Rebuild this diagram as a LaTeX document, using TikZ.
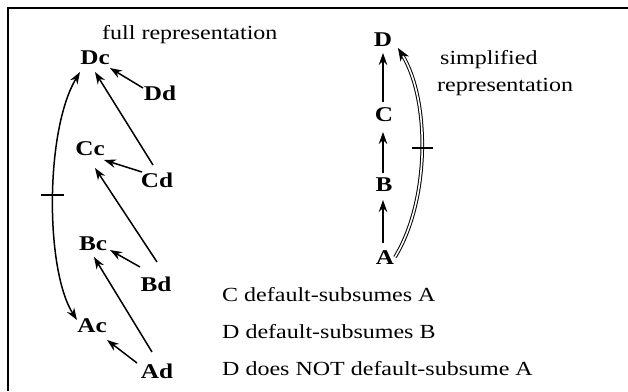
\documentclass[tikz,border=0pt]{standalone}
\usepackage{fontspec}
\setmainfont{Liberation Serif}[FakeStretch=1.2]
\usetikzlibrary{arrows.meta,calc}
\begin{document}
\begin{tikzpicture}[x=1pt,y=-1pt,
  lbl/.style={font=\fontsize{21}{24}\selectfont\bfseries, inner sep=0pt},
  txt/.style={font=\fontsize{20}{24}\selectfont, inner sep=0pt, anchor=base west},
  arr/.style={line width=1.5pt, -{Stealth[length=12pt,width=8.5pt]}},
  darr/.style={line width=1.5pt, {Stealth[length=12pt,width=8.5pt]}-{Stealth[length=12pt,width=8.5pt]}},
  dbl/.style={line width=1pt, double=white, double distance=1.6pt, -{Stealth[length=13pt,width=10pt]}},
  tickmark/.style={line width=1.8pt}]
\useasboundingbox (0,0) rectangle (628,391);
\draw[line width=2.8pt] (8,391) -- (8,8) -- (628,8);

% full representation
\node[txt] (tfull) at (102,39) {full representation};
\node[lbl] (Dc) at (95,58) {Dc};
\node[lbl] (Dd) at (160,93) {Dd};
\node[lbl] (Cc) at (90,149) {Cc};
\node[lbl] (Cd) at (157,180) {Cd};
\node[lbl] (Bc) at (93,244) {Bc};
\node[lbl] (Bd) at (156,284) {Bd};
\node[lbl] (Ac) at (92,326) {Ac};
\node[lbl] (Ad) at (157,371) {Ad};

\draw[arr] ($(Dd)+(-17,-5)$) -- ($(Dc)+(15,10)$);
\draw[arr] ($(Cd)+(-4,-15)$) -- ($(Dc)+(0,14)$);
\draw[arr] ($(Cd)+(-15,-8)$) -- ($(Cc)+(14,11)$);
\draw[arr] ($(Bd)+(1,-22)$) -- ($(Cc)+(5,19)$);
\draw[arr] ($(Bd)+(-16,-17)$) -- ($(Bc)+(17,6)$);
\draw[arr] ($(Ad)+(-5,-19)$) -- ($(Bc)+(1,13)$);
\draw[arr] ($(Ad)+(-20,-8)$) -- ($(Ac)+(15,14)$);
\draw[darr] ($(Dc)+(-15,14)$) .. controls (45,130) and (45,270) .. coordinate[pos=0.49] (t1) ($(Ac)+(-15,-6)$);
\draw[tickmark] ($(t1)+(-12,-1)$) -- ($(t1)+(11,-1)$);

% simplified representation
\node[lbl] (D) at (383,40) {D};
\node[lbl] (C) at (384,115) {C};
\node[lbl] (B) at (384,185) {B};
\node[lbl] (A) at (385,258) {A};
\node[txt] (tsimp) at (440,64) {simplified};
\node[txt] (trep) at (437,91) {representation};

\draw[arr] ($(C)+(-1,-13)$) -- ($(D)+(0,13)$);
\draw[arr] ($(B)+(-1,-12)$) -- ($(C)+(-1,17)$);
\draw[arr] ($(A)+(-2,-15)$) -- ($(B)+(-1,15)$);
\draw[dbl] ($(A)+(10,-1)$) .. controls (430,200) and (430,100) .. coordinate[pos=0.5] (t2) ($(D)+(15,8)$);
\draw[tickmark] ($(t2)+(-10,-3)$) -- ($(t2)+(11,-3)$);

% statements
\node[txt] (s1) at (222,301) {C default-subsumes A};
\node[txt] (s2) at (222,338) {D default-subsumes B};
\node[txt] (s3) at (222,375) {D does NOT default-subsume A};
\end{tikzpicture}
\end{document}
